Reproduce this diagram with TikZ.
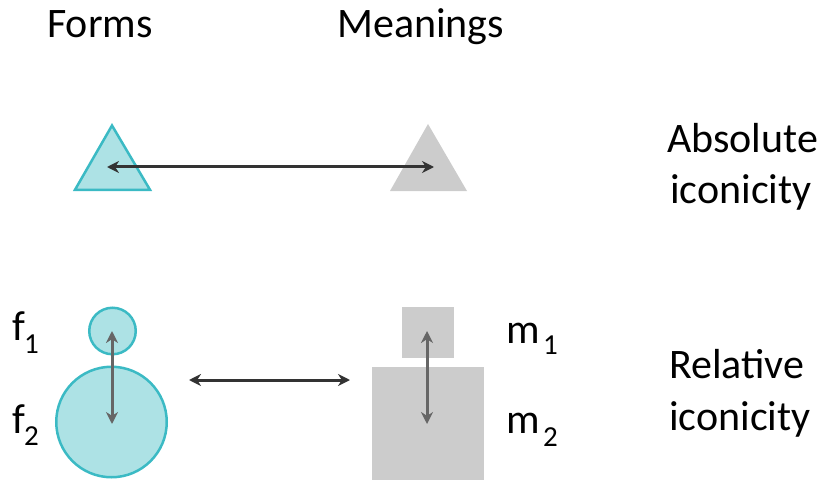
\documentclass[tikz,border=0pt]{standalone}
\usepackage{fontspec}
\setmainfont{Carlito}
\usetikzlibrary{arrows.meta}
\definecolor{cyanfill}{HTML}{ADE2E5}
\definecolor{cyanline}{HTML}{3BBAC4}
\definecolor{grayfill}{HTML}{CCCCCC}
\definecolor{darkarrow}{HTML}{333333}
\definecolor{midarrow}{HTML}{666666}
\tikzset{
  lbl/.style={inner sep=0pt, anchor=base west, font=\fontsize{42}{50}\selectfont},
  sub/.style={inner sep=0pt, anchor=base west, font=\fontsize{29}{34}\selectfont},
  formshape/.style={fill=cyanfill, draw=cyanline, line width=2.5pt},
  meanshape/.style={fill=grayfill, draw=none},
  dbl/.style={{Stealth[length=12pt,width=12pt]}-{Stealth[length=12pt,width=12pt]}, line width=3pt, draw=darkarrow},
  inner/.style={{Stealth[length=12pt,width=12pt]}-{Stealth[length=12pt,width=12pt]}, line width=3pt, draw=midarrow}
}
\begin{document}
\begin{tikzpicture}[x=1pt,y=-1pt]
\useasboundingbox (0,0) rectangle (821,481);
% headers
\node[lbl] (forms) at (47,38) {Forms};
\node[lbl] (meanings) at (337,38) {Meanings};
\node[lbl] (abs1) at (667,153) {Absolute};
\node[lbl] (abs2) at (670,204) {iconicity};
\node[lbl] (rel1) at (669,378) {Relative};
\node[lbl] (rel2) at (669,430) {iconicity};
% absolute iconicity
\draw[formshape] (112,125.5) -- (150,189.8) -- (75,189.8) -- cycle;
\fill[grayfill] (428,124) -- (467,191) -- (390,191) -- cycle;
\coordinate (ta) at (107,167);
\coordinate (tb) at (434,167);
\draw[dbl] (ta) -- (tb);
% relative iconicity: forms
\node[formshape, circle, minimum size=46.5pt, inner sep=0pt] (f1c) at (112.5,331) {};
\node[formshape, circle, minimum size=110.5pt, inner sep=0pt] (f2c) at (111.5,422) {};
\coordinate (fa) at (112,331);
\coordinate (fb) at (112,424);
\draw[inner] (fa) -- (fb);
% meanings
\fill[meanshape] (402,307) rectangle (454,358);
\fill[meanshape] (372,367) rectangle (484,480);
\coordinate (ma) at (427,331);
\coordinate (mb) at (427,424);
\draw[inner] (ma) -- (mb);
% middle arrow
\coordinate (la) at (189,380);
\coordinate (lb) at (350,380);
\draw[dbl] (la) -- (lb);
% labels
\node[lbl] (f1) at (12,340) {f};
\node[sub] (f1s) at (24,353) {1};
\node[lbl] (f2) at (12,433) {f};
\node[sub] (f2s) at (24,445) {2};
\node[lbl] (m1) at (506,343) {m};
\node[sub] (m1s) at (543,354) {1};
\node[lbl] (m2) at (506,433) {m};
\node[sub] (m2s) at (543,446) {2};
\end{tikzpicture}
\end{document}
